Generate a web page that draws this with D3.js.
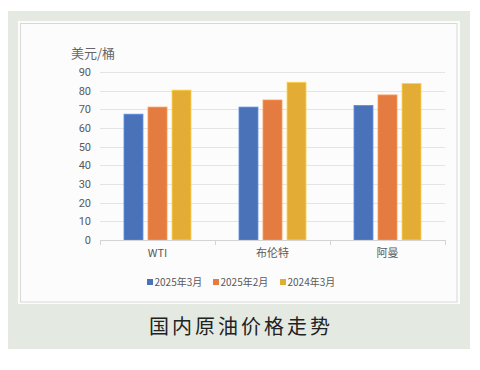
<!DOCTYPE html>
<html>
<head>
<meta charset="utf-8">
<script src="https://cdn.jsdelivr.net/npm/d3@7"></script>
<style>
  body { margin: 0; background: #ffffff; }
  text { font-family: "Noto Sans CJK SC", "Noto Sans", sans-serif; }
</style>
</head>
<body>
<div id="chart"></div>
<script>
const categories = ["WTI", "布伦特", "阿曼"];
const seriesNames = ["2025年3月", "2025年2月", "2024年3月"];
const mar2025 = [67.4, 71.2, 72.1];
const feb2025 = [71.2, 75.0, 77.7];
const mar2024 = [80.3, 84.5, 83.9];
const yTicks = [0, 10, 20, 30, 40, 50, 60, 70, 80, 90];
const colors = ["#4a72b9", "#e47b40", "#e3ac35"];

const seriesValues = [mar2025, feb2025, mar2024];

const width = 480, height = 370;

const svg = d3.select("#chart")
    .append("svg")
    .attr("width", width)
    .attr("height", height);

// outer green panel
svg.append("rect")
    .attr("x", 8).attr("y", 11)
    .attr("width", 462).attr("height", 338)
    .attr("fill", "#e4eae2");

// white chart box
svg.append("rect")
    .attr("x", 18).attr("y", 21)
    .attr("width", 442).attr("height", 283)
    .attr("fill", "#fcfcfc");

svg.append("rect")
    .attr("x", 20.5).attr("y", 23.5)
    .attr("width", 436.5).attr("height", 278.5)
    .attr("fill", "none")
    .attr("stroke", "#d9d9d9")
    .attr("stroke-width", 1);

const plotLeft = 100, plotRight = 445, plotTop = 72, plotBottom = 240;

const x0 = d3.scaleBand()
    .domain(categories)
    .range([plotLeft, plotRight])
    .paddingInner(0)
    .paddingOuter(0);

const x1 = d3.scaleBand()
    .domain(seriesNames)
    .range([0, 67])
    .paddingInner(0.21);

const y = d3.scaleLinear()
    .domain([0, 90])
    .range([plotBottom, plotTop]);

// gridlines
svg.append("g")
    .selectAll("line")
    .data(yTicks.filter(d => d > 0))
    .enter().append("line")
    .attr("x1", plotLeft)
    .attr("x2", plotRight)
    .attr("y1", d => Math.round(y(d)) + 0.5)
    .attr("y2", d => Math.round(y(d)) + 0.5)
    .attr("stroke", "#e4e4e4")
    .attr("stroke-width", 1);

// y axis labels
const yAxis = d3.axisLeft(y)
    .tickValues(yTicks)
    .tickSize(0)
    .tickPadding(9);

svg.append("g")
    .attr("transform", `translate(${plotLeft},0)`)
    .call(yAxis)
    .call(g => g.select(".domain").remove())
    .selectAll("text")
    .style("font-family", "Roboto, 'Noto Sans', sans-serif")
    .style("font-size", "11px")
    .style("fill", "#595959");

// bars
const groups = svg.append("g")
    .selectAll("g")
    .data(categories)
    .enter().append("g")
    .attr("transform", d => `translate(${x0(d) + x0.bandwidth() / 2 - 33.5},0)`);

groups.selectAll("rect")
    .data((d, i) => seriesNames.map((s, j) => ({ series: s, value: seriesValues[j][i], idx: j })))
    .enter().append("rect")
    .attr("x", d => x1(d.series))
    .attr("y", d => y(d.value))
    .attr("width", x1.bandwidth())
    .attr("height", d => plotBottom - y(d.value))
    .attr("fill", d => colors[d.idx])
    .attr("stroke", d => d3.color(colors[d.idx]).brighter(0.6))
    .attr("stroke-width", 0.8);

// x axis
const xAxis = d3.axisBottom(x0)
    .tickSize(0)
    .tickPadding(9);

const xg = svg.append("g")
    .attr("transform", `translate(0,${plotBottom})`)
    .call(xAxis);

xg.select(".domain")
    .attr("stroke", "#d4d4d4");

xg.selectAll("text")
    .style("font-family", "'Noto Sans CJK SC', sans-serif")
    .style("font-size", "11px")
    .style("fill", "#595959");

// category boundary ticks
svg.append("g")
    .selectAll("line")
    .data(categories.map(c => x0(c)).concat([plotRight]))
    .enter().append("line")
    .attr("x1", d => Math.round(d) + 0.5)
    .attr("x2", d => Math.round(d) + 0.5)
    .attr("y1", plotBottom)
    .attr("y2", plotBottom + 5)
    .attr("stroke", "#d4d4d4");

// unit label
svg.append("text")
    .attr("x", 71)
    .attr("y", 58)
    .style("font-size", "13px")
    .style("fill", "#666666")
    .text("美元/桶");

// legend
const legendX = [147, 213, 280];
const legend = svg.append("g")
    .selectAll("g")
    .data(seriesNames)
    .enter().append("g")
    .attr("transform", (d, i) => `translate(${legendX[i]},277)`);

legend.append("rect")
    .attr("width", 6)
    .attr("height", 6)
    .attr("y", 2)
    .attr("fill", (d, i) => colors[i]);

legend.append("text")
    .attr("x", 7.5)
    .attr("y", 9)
    .style("font-size", "10px")
    .style("fill", "#595959")
    .text(d => d);

// caption
svg.append("text")
    .attr("x", 241)
    .attr("y", 334)
    .attr("text-anchor", "middle")
    .style("font-size", "20px")
    .style("letter-spacing", "3px")
    .style("fill", "#222222")
    .text("国内原油价格走势");
</script>
</body>
</html>
